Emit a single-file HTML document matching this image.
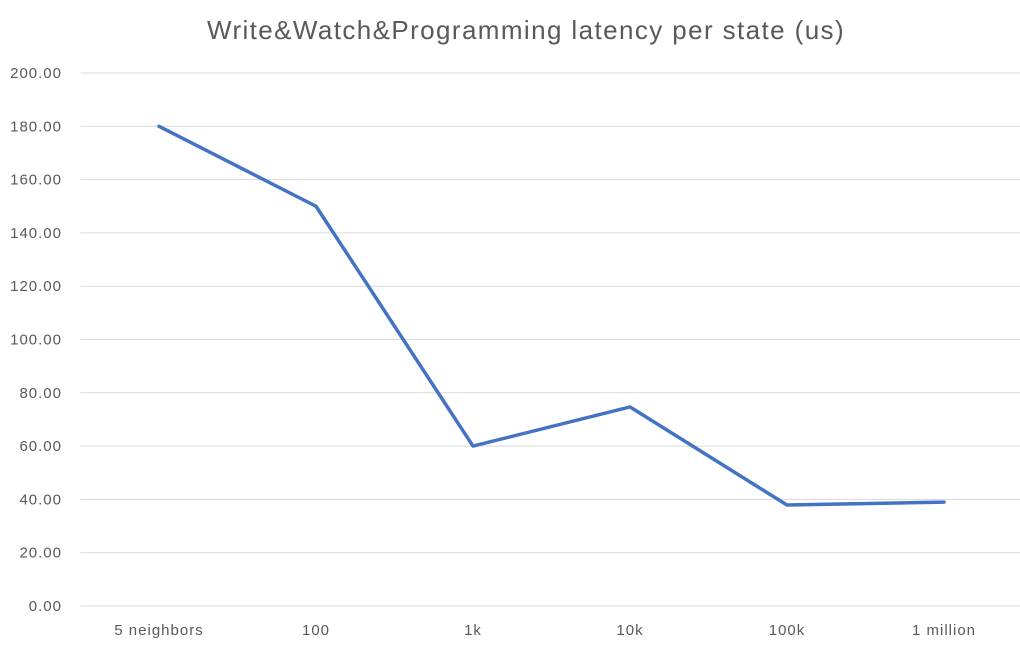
<!DOCTYPE html>
<html><head><meta charset="utf-8"><style>
html,body{margin:0;padding:0;background:#fff;}
svg{display:block;font-family:"Liberation Sans",sans-serif;}
</style></head><body>
<svg id="chart" width="1020" height="649">
<rect x="0" y="0" width="1020" height="649" fill="#fff"/>
<text x="526" y="39" text-anchor="middle" font-size="26" letter-spacing="1.4" fill="#595959">Write&amp;Watch&amp;Programming latency per state (us)</text>
<g id="grid"></g><g id="yticks"></g><g id="xticks"></g><g id="series"></g>
</svg>
<script>
const categories = ["5 neighbors","100","1k","10k","100k","1 million"];
const values = [180, 150, 60, 74.7, 37.9, 39];
const yTicks = [0,20,40,60,80,100,120,140,160,180,200];
const yMin = 0, yMax = 200;
const plotL = 80.5, plotR = 1022.5, plotT = 73, plotB = 606;
const NS = "http://www.w3.org/2000/svg";
function yScale(v){return plotB - (v - yMin)/(yMax - yMin)*(plotB - plotT);}
function xScale(i){const w=(plotR-plotL)/categories.length;return plotL + w*(i+0.5);}
function mk(tag, attrs, parent){const e=document.createElementNS(NS,tag);for(const k in attrs)e.setAttribute(k,attrs[k]);parent.appendChild(e);return e;}
const grid=document.getElementById('grid'), yt=document.getElementById('yticks'), xt=document.getElementById('xticks'), se=document.getElementById('series');
yTicks.forEach(t=>{
  const y=yScale(t);
  const l=mk('line',{x1:plotL,x2:1020,y1:y,y2:y,stroke:'#d9d9d9','stroke-width':1},grid);
  
  
  const tx=mk('text',{x:62,y:y+5,'text-anchor':'end','font-size':15,'letter-spacing':1,fill:'#595959'},yt);
  tx.textContent=t.toFixed(2);
  
  
});
categories.forEach((c,i)=>{
  const tx=mk('text',{x:xScale(i),y:635,'text-anchor':'middle','font-size':15,'letter-spacing':1,fill:'#595959'},xt);
  tx.textContent=c;
  
  
});
const pts=values.map((v,i)=>xScale(i)+','+yScale(v)).join(' ');
const pl=mk('polyline',{points:pts,fill:'none',stroke:'#4472c4','stroke-width':3.5,'stroke-linejoin':'round','stroke-linecap':'round'},se);


</script>
</body></html>
